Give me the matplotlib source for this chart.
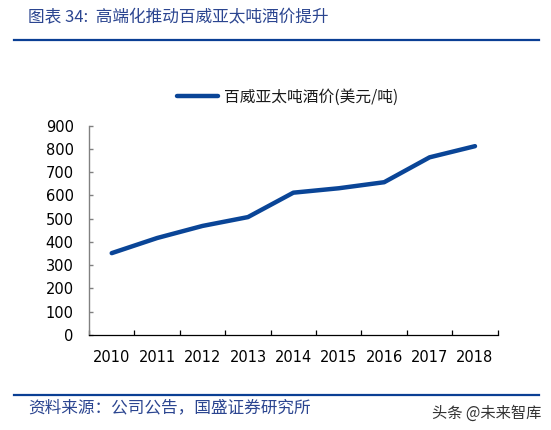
import matplotlib
matplotlib.use("Agg")
import matplotlib.pyplot as plt
from matplotlib.lines import Line2D
from matplotlib.ticker import FixedLocator

years = ["2010", "2011", "2012", "2013", "2014", "2015", "2016", "2017", "2018"]
price = [352, 417, 469, 507, 612, 631, 657, 764, 812]
y_ticks = [0, 100, 200, 300, 400, 500, 600, 700, 800, 900]
series_label = "百威亚太吨酒价(美元/吨)"
title = "图表 34:  高端化推动百威亚太吨酒价提升"
source = "资料来源：公司公告，国盛证券研究所"
watermark = "头条 @未来智库"

CJK = ["Noto Sans CJK SC", "DejaVu Sans"]
W, H = 551, 430
fig = plt.figure(figsize=(W / 100, H / 100), dpi=100)
fig.patch.set_facecolor("white")

ax = fig.add_axes([89 / W, 1 - 335 / H, (497.7 - 89) / W, (335 - 125.7) / H])
x = list(range(len(years)))
ax.plot(x, price, color="#0a4597", lw=3.2, solid_capstyle="round",
        solid_joinstyle="round", label=series_label)

ax.set_xlim(-0.5, len(years) - 0.5)
ax.set_ylim(0, 900)
ax.set_yticks(y_ticks)
ax.set_yticklabels([str(v) for v in y_ticks])
ax.set_xticks(x)
ax.set_xticklabels(years)
ax.xaxis.set_minor_locator(FixedLocator([i - 0.5 for i in range(len(years) + 1)]))

for sp in ["top", "right"]:
    ax.spines[sp].set_visible(False)
ax.spines["left"].set_color("#808080")
ax.spines["left"].set_linewidth(1.0)
ax.spines["bottom"].set_color("#000000")
ax.spines["bottom"].set_linewidth(0.9)

ax.tick_params(axis="x", which="major", length=0, pad=11.0,
               labelsize=10.5, labelcolor="#000000")
ax.tick_params(axis="x", which="minor", direction="in", length=3.4,
               width=0.9, color="#000000")
ax.tick_params(axis="y", which="major", direction="in", length=3.0,
               width=1.0, color="#808080", pad=11.0, labelsize=10.5,
               labelcolor="#000000")
for lab in ax.get_xticklabels() + ax.get_yticklabels():
    lab.set_fontfamily("DejaVu Sans")

leg = ax.legend(loc="center left", bbox_to_anchor=((177 - 89) / (497.7 - 89), (335 - 97) / (335 - 125.7)),
                frameon=False, borderaxespad=0, borderpad=0,
                handlelength=2.6, handletextpad=0.4,
                prop={"family": CJK, "size": 11.3})
for t in leg.get_texts():
    t.set_color("#1a1a1a")

# header / footer
fig.text(28 / W, 1 - 18 / H, title, ha="left", va="center", fontsize=12,
         color="#2b4590", family=CJK, style="italic")
fig.add_artist(Line2D([14 / W, 539 / W], [1 - 40 / H, 1 - 40 / H],
                      color="#0a3f94", lw=1.6, transform=fig.transFigure))
fig.add_artist(Line2D([14 / W, 539 / W], [1 - 395 / H, 1 - 395 / H],
                      color="#0a3f94", lw=1.6, transform=fig.transFigure))
fig.text(28 / W, 1 - 408 / H, source, ha="left", va="center", fontsize=12,
         color="#2b4590", family=CJK, style="italic")
fig.text(541 / W, 1 - 413 / H, watermark, ha="right", va="center", fontsize=11,
         color="#333333", family=CJK)

fig.savefig("out.png", dpi=100, facecolor="white")
